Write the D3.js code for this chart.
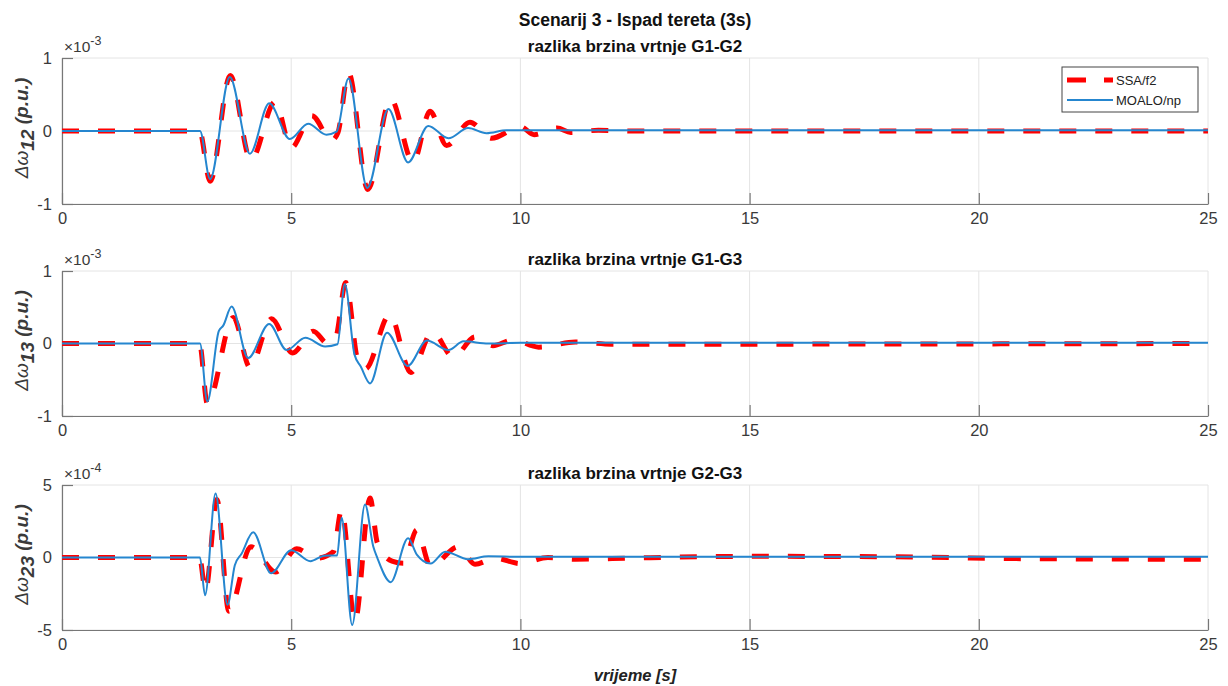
<!DOCTYPE html>
<html><head><meta charset="utf-8">
<script src="https://cdn.jsdelivr.net/npm/d3@7"></script>
<style>
html,body{margin:0;padding:0;background:#fff;}
svg{display:block;font-family:"Liberation Sans",Arial,sans-serif;}
</style></head>
<body>
<svg id="chart" width="1228" height="686"></svg>
<script>
// ---------- data ----------
const chartTitle = "Scenarij 3 - Ispad tereta (3s)";
const subTitles = ["razlika brzina vrtnje G1-G2", "razlika brzina vrtnje G1-G3", "razlika brzina vrtnje G2-G3"];
const subscripts = ["12", "13", "23"];
const exponents = ["-3", "-3", "-4"];
const xTicks = [0, 5, 10, 15, 20, 25];
const yTicks12 = [-1, 0, 1];
const yTicks13 = [-1, 0, 1];
const yTicks23 = [-5, 0, 5];
const seriesNames = ["SSA/f2", "MOALO/np"];
const xLabel = "vrijeme [s]";

// panel 1 (x 1e-3)
const tSsa12 = [0,3.0,3.23,3.67,4.12,4.65,5.0,5.45,5.88,6.02,6.25,6.67,7.17,7.66,8.03,8.39,8.9,9.37,10.0,10.3,10.8,11.1,11.7,12.5,25];
const vSsa12 = [0,0,-0.69,0.76,-0.40,0.40,-0.23,0.21,-0.13,-0.02,0.80,-0.80,0.44,-0.43,0.27,-0.20,0.12,-0.10,0.06,-0.05,0.04,-0.02,0.01,0,0];
const tMoa12 = [0,3.01,3.23,3.66,4.10,4.52,4.97,5.37,5.77,5.99,6.25,6.66,7.12,7.55,7.99,8.43,8.86,9.26,9.7,25];
const vMoa12 = [0,0,-0.66,0.74,-0.31,0.38,-0.11,0.10,-0.05,-0.01,0.72,-0.78,0.30,-0.43,0.07,-0.10,0.04,-0.03,0.01,0.01];

// panel 2 (x 1e-3)
const tSsa13 = [0,3.0,3.17,3.74,4.10,4.57,5.03,5.48,5.8,5.97,6.19,6.45,6.62,7.15,7.61,8.08,8.54,9.01,9.4,9.84,10.4,11.2,12,25];
const vSsa13 = [0,0,-0.83,0.36,-0.33,0.34,-0.13,0.17,0.0,0.08,0.84,-0.22,-0.35,0.40,-0.40,0.16,-0.19,0.09,-0.03,0.05,-0.05,0.02,-0.01,0];
const tMoa13 = [0,3.01,3.17,3.42,3.52,3.70,4.06,4.52,4.90,5.31,5.74,6.01,6.17,6.38,6.52,6.72,7.09,7.54,7.96,8.43,8.76,9.3,10,25];
const vMoa13 = [0,0,-0.80,0.17,0.25,0.51,-0.20,0.27,-0.09,0.08,-0.04,-0.01,0.82,-0.15,-0.32,-0.55,0.15,-0.31,0.04,-0.09,0.03,0.0,0.01,0.01];

// panel 3 (x 1e-4)
const tSsa23 = [0,3.0,3.13,3.38,3.64,4.12,4.66,5.12,5.55,5.92,6.10,6.39,6.72,6.88,7.2,7.45,7.74,8.04,8.65,9.01,9.45,10.0,10.6,11.2,12.5,15,18,21,25];
const vSsa23 = [0,0,-2.3,4.0,-3.7,0.75,-1.0,0.6,-0.05,0.4,3.29,-4.41,4.1,1.0,-0.25,-0.4,1.9,-0.6,0.74,-0.46,-0.05,-0.42,0.0,-0.12,-0.03,0.08,0.05,-0.08,-0.12];
const tMoa23 = [0,3.01,3.12,3.35,3.61,3.77,3.92,4.17,4.56,5.00,5.42,5.72,6.0,6.10,6.33,6.61,6.79,6.88,7.17,7.55,7.74,8.04,8.36,8.86,9.3,10,25];
const vMoa23 = [0,0,-2.6,4.42,-3.26,-0.53,0.28,1.74,-1.08,0.50,-0.25,0.12,0.14,2.74,-4.65,3.65,0.76,-0.04,-1.70,1.33,0.2,-0.42,0.40,-0.12,0.08,0.05,0.05];

const panelsData = [
  {ssaT:tSsa12, ssaV:vSsa12, moaT:tMoa12, moaV:vMoa12, yTicks:yTicks12},
  {ssaT:tSsa13, ssaV:vSsa13, moaT:tMoa13, moaV:vMoa13, yTicks:yTicks13},
  {ssaT:tSsa23, ssaV:vSsa23, moaT:tMoa23, moaV:vMoa23, yTicks:yTicks23}
];

// ---------- layout ----------
const svg = d3.select("#chart");
const L = 62, R = 1208;
const panelBox = [[58,204],[271,416],[485,630]];
const redCol = "#ff0000", blueCol = "#2586cf";
const axisCol = "#777777", textCol = "#3a3a3a", gridCol = "#e4e4e4";

const x = d3.scaleLinear().domain([0,25]).range([L,R]);
const fmt = d => (d < 0 ? "-" + Math.abs(d) : String(d));

svg.append("text").attr("x",635).attr("y",26).attr("text-anchor","middle")
  .attr("font-size",17.5).attr("font-weight","bold").attr("fill","#111").text(chartTitle);

panelsData.forEach((p,i) => {
  const [top,bot] = panelBox[i];
  const yMax = p.yTicks[p.yTicks.length-1];
  const y = d3.scaleLinear().domain([-yMax,yMax]).range([bot,top]);
  const g = svg.append("g");

  // grid
  g.selectAll(".gx").data(xTicks).join("line")
    .attr("x1",d=>x(d)).attr("x2",d=>x(d)).attr("y1",top).attr("y2",bot)
    .attr("stroke",gridCol).attr("stroke-width",1);
  g.selectAll(".gy").data(p.yTicks).join("line")
    .attr("x1",L).attr("x2",R).attr("y1",d=>y(d)).attr("y2",d=>y(d))
    .attr("stroke",gridCol).attr("stroke-width",1);

  // axes
  const xa = g.append("g").attr("transform",`translate(0,${bot})`)
    .call(d3.axisBottom(x).tickValues(xTicks).tickFormat(fmt).tickSize(-11).tickSizeOuter(0).tickPadding(8));
  const ya = g.append("g").attr("transform",`translate(${L},0)`)
    .call(d3.axisLeft(y).tickValues(p.yTicks).tickFormat(fmt).tickSize(-11).tickSizeOuter(0).tickPadding(10));
  [xa,ya].forEach(a => {
    a.select(".domain").attr("stroke",axisCol).attr("stroke-width",1.2);
    a.selectAll(".tick line").attr("stroke",axisCol).attr("stroke-width",1.2);
    a.selectAll(".tick text").attr("fill",textCol).attr("font-size",16.5)
      .attr("font-family","'Liberation Sans',Arial,sans-serif");
  });

  // subtitle
  svg.append("text").attr("x",635).attr("y",top-6).attr("text-anchor","middle")
    .attr("font-size",17).attr("font-weight","bold").attr("fill","#111").text(subTitles[i]);

  // exponent
  const ex = svg.append("text").attr("x",L+2).attr("y",top-6).attr("font-size",15.5).attr("fill",textCol);
  ex.append("tspan").text("\u00d710");
  ex.append("tspan").attr("dy",-7).attr("font-size",12.5).text(exponents[i]);

  // y label
  const cy = (top+bot)/2 - 3;
  const yl = svg.append("text").attr("transform",`translate(28,${cy}) rotate(-90)`)
    .attr("text-anchor","middle").attr("font-size",19).attr("fill",textCol);
  yl.append("tspan").attr("font-style","italic").text("\u0394\u03c9");
  yl.append("tspan").attr("font-style","italic").attr("font-weight","bold").attr("dy",6).text(subscripts[i]);
  yl.append("tspan").attr("font-style","italic").attr("font-weight","bold").attr("dy",-6).text(" (p.u.)");

  // lines
  const line = d3.line().x(d=>x(d[0])).y(d=>y(d[1])).curve(d3.curveMonotoneX);
  const ssa = p.ssaT.map((t,k)=>[t,p.ssaV[k]]);
  const moa = p.moaT.map((t,k)=>[t,p.moaV[k]]);
  g.append("path").datum(ssa).attr("d",line).attr("fill","none")
    .attr("stroke",redCol).attr("stroke-width",5).attr("stroke-dasharray","17,19");
  g.append("path").datum(moa).attr("d",line).attr("fill","none")
    .attr("stroke",blueCol).attr("stroke-width",2);
});

// legend
const lg = svg.append("g");
lg.append("rect").attr("x",1062).attr("y",67).attr("width",136).attr("height",45)
  .attr("fill","#fff").attr("stroke","#444").attr("stroke-width",1);
lg.append("line").attr("x1",1067).attr("x2",1113).attr("y1",80).attr("y2",80)
  .attr("stroke",redCol).attr("stroke-width",5).attr("stroke-dasharray","19,18");
lg.append("line").attr("x1",1067).attr("x2",1113).attr("y1",100).attr("y2",100)
  .attr("stroke",blueCol).attr("stroke-width",2);
lg.selectAll(".lt").data(seriesNames).join("text")
  .attr("x",1116).attr("y",(d,k)=>85+k*20).attr("font-size",13).attr("fill","#222").text(d=>d);

// x label
svg.append("text").attr("x",635).attr("y",681).attr("text-anchor","middle")
  .attr("font-size",16.5).attr("font-weight","bold").attr("font-style","italic").attr("fill","#222").text(xLabel);
</script>
</body></html>
